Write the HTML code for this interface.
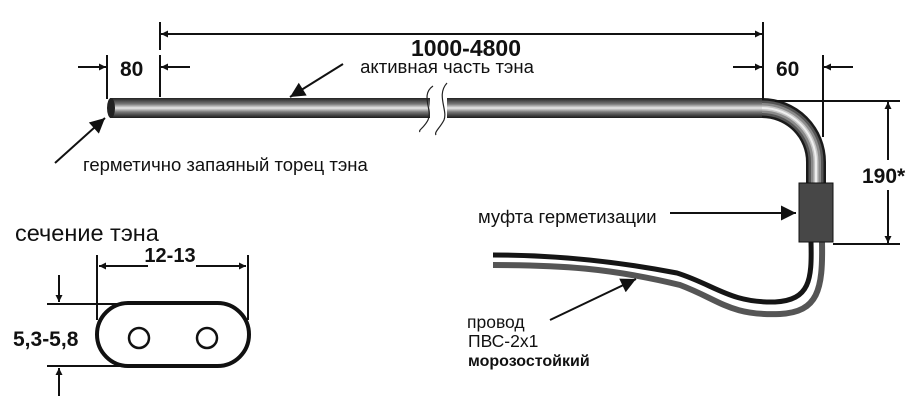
<!DOCTYPE html>
<html><head><meta charset="utf-8"><style>
html,body{margin:0;padding:0;background:#fff;width:920px;height:420px;overflow:hidden}
svg{display:block}
text{font-family:"Liberation Sans",sans-serif;fill:#111}
</style></head><body>
<svg width="920" height="420" viewBox="0 0 920 420" xmlns="http://www.w3.org/2000/svg">
<defs>
<linearGradient id="gh" x1="0" y1="0" x2="0" y2="1">
<stop offset="0" stop-color="#222"/><stop offset="0.3" stop-color="#777"/><stop offset="0.5" stop-color="#e8e8e8"/><stop offset="0.7" stop-color="#777"/><stop offset="1" stop-color="#1a1a1a"/>
</linearGradient>
<marker id="ah" viewBox="0 0 10 10" refX="10" refY="5" markerWidth="10" markerHeight="7" markerUnits="userSpaceOnUse" orient="auto"><path d="M0,0 L10,5 L0,10 z" fill="#111"/></marker>
<marker id="ab" viewBox="0 0 10 10" refX="10" refY="5" markerWidth="24" markerHeight="15" markerUnits="userSpaceOnUse" orient="auto"><path d="M0,0 L10,5 L0,10 z" fill="#111"/></marker>
</defs>
<!-- tube -->
<rect x="110" y="98" width="320" height="20" fill="url(#gh)"/>
<rect x="447" y="98" width="316" height="20" fill="url(#gh)"/>
<ellipse cx="111" cy="108" rx="4" ry="10" fill="#222"/>
<g fill="none">
<path d="M762,108 A54,54 0 0 1 816,162 L816,185" stroke="#1a1a1a" stroke-width="20"/>
<path d="M762,108 A54,54 0 0 1 816,162 L816,185" stroke="#555" stroke-width="15"/>
<path d="M762,108 A54,54 0 0 1 816,162 L816,185" stroke="#8a8a8a" stroke-width="10"/>
<path d="M762,108 A54,54 0 0 1 816,162 L816,185" stroke="#c4c4c4" stroke-width="5"/>
<path d="M762,108 A54,54 0 0 1 816,162 L816,185" stroke="#eee" stroke-width="2"/>
</g>
<path d="M433,86 C420,95 433,110 428,120 C424,128 418,130 420,132 M447,83 C436,95 448,110 444,120 C440,128 434,132 436,135" fill="none" stroke="#222" stroke-width="1.2"/>
<!-- cable -->
<path d="M493,265 C560,265 610,268 680,285 C720,300 730,316 780,314 C818,312 823,290 822,242" fill="none" stroke="#555" stroke-width="6"/>
<path d="M493,255 C560,255 620,262 677,273 C715,285 730,303 775,302 C810,300 812,280 811,242" fill="none" stroke="#151515" stroke-width="5"/>
<rect x="799" y="183" width="34" height="59" fill="#474747" stroke="#111" stroke-width="1"/>
<!-- dims top -->
<g stroke="#111" stroke-width="2" fill="none">
<line x1="160" y1="22" x2="160" y2="50"/><line x1="160" y1="55" x2="160" y2="97"/>
<line x1="763" y1="22" x2="763" y2="100"/>
<line x1="435" y1="34" x2="161" y2="34" marker-end="url(#ah)"/>
<line x1="435" y1="34" x2="762" y2="34" marker-end="url(#ah)"/>
<line x1="107" y1="55" x2="107" y2="99"/>
<line x1="78" y1="67" x2="106" y2="67" marker-end="url(#ah)"/>
<line x1="190" y1="67" x2="161" y2="67" marker-end="url(#ah)"/>
<line x1="733" y1="67" x2="762" y2="67" marker-end="url(#ah)"/>
<line x1="823" y1="55" x2="823" y2="137"/>
<line x1="853" y1="67" x2="824" y2="67" marker-end="url(#ah)"/>
<line x1="775" y1="101" x2="900" y2="101"/>
<line x1="833" y1="244" x2="900" y2="244"/>
<line x1="888" y1="160" x2="888" y2="102" marker-end="url(#ah)"/>
<line x1="888" y1="190" x2="888" y2="243" marker-end="url(#ah)"/>
<line x1="343" y1="64" x2="290" y2="97" marker-end="url(#ab)"/>
<line x1="55" y1="163" x2="105" y2="118" marker-end="url(#ab)"/>
<line x1="670" y1="213" x2="796" y2="213" marker-end="url(#ab)"/>
<line x1="550" y1="320" x2="636" y2="279" marker-end="url(#ab)"/>
</g>
<rect x="405" y="37" width="122" height="20" fill="#fff"/>
<text x="466" y="56" font-size="23" font-weight="bold" text-anchor="middle">1000-4800</text>
<text x="447" y="73" font-size="18.5" text-anchor="middle">активная часть тэна</text>
<text x="120" y="76" font-size="21" font-weight="bold">80</text>
<text x="776" y="76" font-size="21" font-weight="bold">60</text>
<rect x="860" y="160" width="48" height="30" fill="#fff"/>
<text x="862" y="183" font-size="21" font-weight="bold">190*</text>
<text x="83" y="171" font-size="18.5">герметично запаяный торец тэна</text>
<text x="478" y="223" font-size="18.5">муфта герметизации</text>
<text x="467" y="328" font-size="17.5">провод</text>
<text x="468" y="347" font-size="17.5">ПВС-2х1</text>
<text x="468" y="366" font-size="16" font-weight="bold">морозостойкий</text>
<!-- section -->
<text x="15" y="241" font-size="23.5">сечение тэна</text>
<rect x="97" y="303" width="152" height="63" rx="31.5" fill="none" stroke="#111" stroke-width="4"/>
<circle cx="139" cy="338" r="10" fill="none" stroke="#111" stroke-width="2.5"/>
<circle cx="207" cy="338" r="10" fill="none" stroke="#111" stroke-width="2.5"/>
<g stroke="#111" stroke-width="2" fill="none">
<line x1="97" y1="255" x2="97" y2="320"/><line x1="248" y1="255" x2="248" y2="320"/>
<line x1="148" y1="266" x2="99" y2="266" marker-end="url(#ah)"/>
<line x1="196" y1="266" x2="246" y2="266" marker-end="url(#ah)"/>
<line x1="47" y1="304" x2="120" y2="304"/><line x1="47" y1="366" x2="130" y2="366"/>
<line x1="59" y1="275" x2="59" y2="302" marker-end="url(#ah)"/>
<line x1="59" y1="396" x2="59" y2="368" marker-end="url(#ah)"/>
</g>
<text x="170" y="262" font-size="20" font-weight="bold" text-anchor="middle">12-13</text>
<text x="13" y="346" font-size="21" font-weight="bold">5,3-5,8</text>
</svg>
</body></html>
